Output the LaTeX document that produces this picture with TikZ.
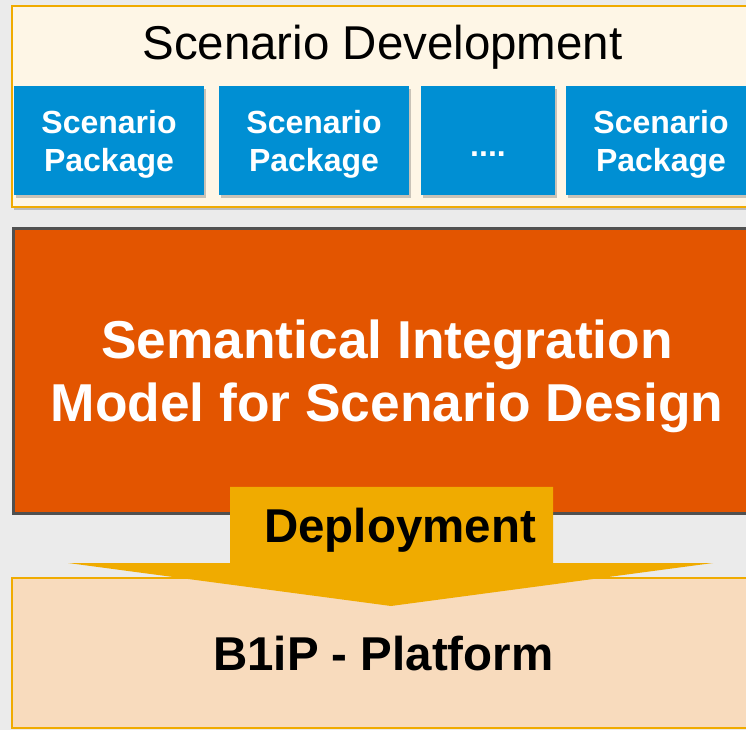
\documentclass[tikz,border=0pt]{standalone}
\usepackage{fontspec}
\setmainfont{Liberation Sans}
\usetikzlibrary{shadows}
\definecolor{bgcol}{HTML}{EBEBEB}
\definecolor{creamcol}{HTML}{FEF6E6}
\definecolor{goldcol}{HTML}{F0AB00}
\definecolor{bluecol}{HTML}{008FD3}
\definecolor{orangecol}{HTML}{E35500}
\definecolor{greycol}{HTML}{505050}
\definecolor{peachcol}{HTML}{F8DBBD}
\tikzset{
  shadowed/.style={drop shadow={shadow xshift=1.5pt, shadow yshift=-2.5pt, opacity=0.3, fill=black!70}},
  devbox/.style={rectangle, fill=creamcol, draw=goldcol, line width=1.5pt, shadowed, inner sep=0pt},
  pkgbox/.style={rectangle, fill=bluecol, text=white, inner sep=0pt, shadowed,
    font=\fontsize{24}{28.5}\selectfont\bfseries, align=center,
    minimum height=81.75pt, text depth=0pt},
  semanbox/.style={rectangle, fill=orangecol, draw=greycol, line width=2.25pt, text=white,
    font=\fontsize{40}{47.25}\selectfont\bfseries, align=center, inner sep=0pt, text depth=0pt},
  platbox/.style={rectangle, fill=peachcol, draw=goldcol, line width=1.2pt, inner sep=0pt,
    font=\fontsize{35.6}{42}\selectfont\bfseries, text depth=0pt},
  deplabel/.style={font=\fontsize{35.6}{42}\selectfont\bfseries, text depth=0pt, inner sep=0pt}
}
\begin{document}
\begin{tikzpicture}[x=0.75pt, y=-0.75pt]
\clip (0,0) rectangle (746,730);
\fill[bgcol] (0,0) rectangle (746,730);
% top container
\node[devbox, minimum width=561pt, minimum height=150.75pt] (dev) at (386,106.5) {};
\node[font=\fontsize{35.6}{42}\selectfont, anchor=base, inner sep=0pt] (devtitle) at (382.5,59.5) {Scenario Development};
% packages
\node[pkgbox, minimum width=142.5pt] (p1) at (109,140.5) {Scenario\\Package};
\node[pkgbox, minimum width=142.5pt] (p2) at (314,140.5) {Scenario\\Package};
\node[pkgbox, minimum width=100.5pt] (p3) at (488,140.5) {\vphantom{S}\raisebox{-3.5pt}{....}};
\node[pkgbox, minimum width=142.5pt] (p4) at (661,140.5) {Scenario\\Package};
% semantic model
\node[semanbox, minimum width=561pt, minimum height=213.75pt] (sem) at (387,371)
  {Semantical Integration\\Model for Scenario Design};
% platform
\node[platbox, minimum width=561pt, minimum height=112.5pt] (plat) at (386,653) {\hspace*{-4pt}B1iP - Platform};
% deployment arrow
\fill[goldcol] (230,487) -- (553,487) -- (553,563) -- (713,563) -- (391,606) -- (68,563) -- (230,563) -- cycle;
\node[deplabel] (dep) at (400,525) {Deployment};
\end{tikzpicture}
\end{document}
